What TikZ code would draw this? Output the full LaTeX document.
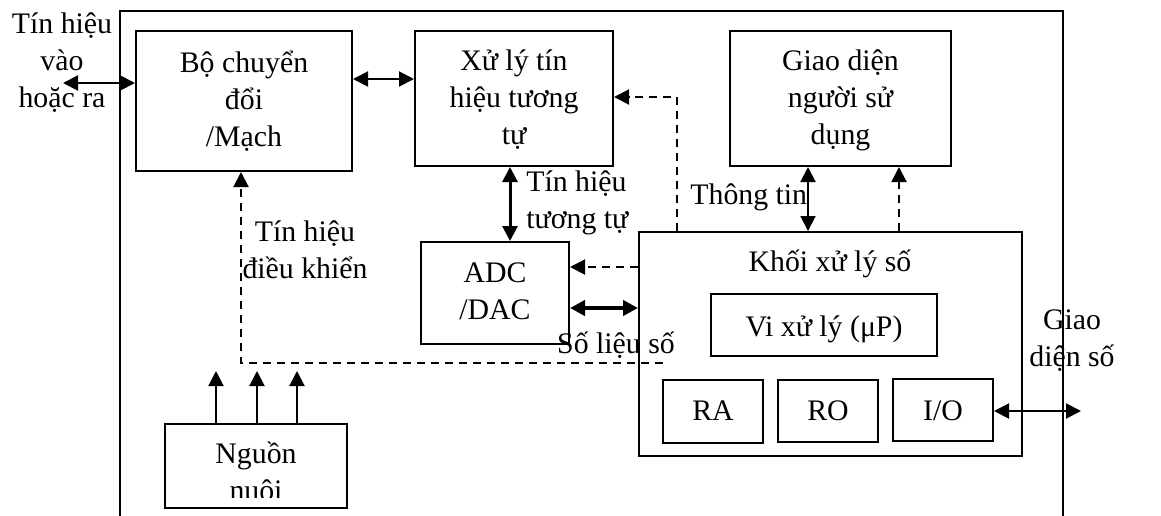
\documentclass[tikz,border=0pt]{standalone}
\usepackage{fontspec}
\setmainfont{Liberation Serif}
\usetikzlibrary{arrows.meta}
\begin{document}
\begin{tikzpicture}[x=0.5pt,y=-0.5pt,
  font=\fontsize{14.9}{18.5}\selectfont,
  box/.style={draw,line width=1pt,inner sep=0pt},
  lbl/.style={inner sep=0pt,align=center},
  tip/.style={-{Triangle[length=7.5pt,width=7.5pt]}},
  dtip/.style={{Triangle[length=7.5pt,width=7.5pt]}-{Triangle[length=7.5pt,width=7.5pt]}},
  conn/.style={line width=1pt},
  dsh/.style={line width=1pt,dash pattern=on 4pt off 3pt}]
\useasboundingbox (0,0) rectangle (1161,515);
% outer frame
\draw[line width=1pt] (120,517) -- (120,11) -- (1063,11) -- (1063,517);
% boxes
\node[box,minimum width=108pt,minimum height=70pt] (bo) at (244,101) {};
\node[box,minimum width=99pt,minimum height=67.5pt] (xl) at (514,98.5) {};
\node[box,minimum width=110.5pt,minimum height=67.5pt] (gd) at (840.5,98.5) {};
\node[box,minimum width=74pt,minimum height=51pt] (adc) at (495,293) {};
\node[box,minimum width=191.5pt,minimum height=112pt] (kh) at (830.5,344) {};
\node[box,minimum width=113pt,minimum height=31pt] (vi) at (824,325) {};
\node[box,minimum width=50pt,minimum height=31.5pt] (ra) at (713,411.5) {};
\node[box,minimum width=50pt,minimum height=31pt] (ro) at (828,411) {};
\node[box,minimum width=50pt,minimum height=31pt] (io) at (943,410) {};
\node[box,minimum width=91pt,minimum height=42pt] (ng) at (256,466) {};
% box texts (base anchor = last line)
\begin{scope}
\clip (136,31) rectangle (352,161);
\node[lbl,anchor=base] (botxt) at (244,146) {Bộ chuyển\\đổi\\/Mạch};
\end{scope}
\node[lbl,anchor=base] (xltxt) at (514,144) {Xử lý tín\\hiệu tương\\tự};
\node[lbl,anchor=base] (gdtxt) at (840.5,144) {Giao diện\\người sử\\dụng};
\node[lbl,anchor=base] (adctxt) at (495,319) {ADC\\/DAC};
\node[lbl,anchor=base] (khtxt) at (830,271) {Khối xử lý số};
\node[lbl,anchor=base] (vitxt) at (824,336) {Vi xử lý (μP)};
\node[lbl,anchor=base] (ratxt) at (713,420) {RA};
\node[lbl,anchor=base] (rotxt) at (828,420) {RO};
\node[lbl,anchor=base] (iotxt) at (943,420) {I/O};
\begin{scope}
\clip (165,424) rectangle (347,497);
\node[lbl,anchor=base] (ngtxt) at (256,500) {Nguồn\\nuôi};
\end{scope}
% labels
\node[lbl,anchor=base] (lin) at (62,107) {Tín hiệu\\vào\\hoặc ra};
\node[lbl,anchor=base west,align=left] (lan) at (526,228) {Tín hiệu\\tương tự};
\node[lbl,anchor=base west] (lth) at (690,204) {Thông tin};
\node[lbl,anchor=base] (lct) at (305,278) {Tín hiệu\\điều khiển};
\node[lbl,anchor=base] (lsl) at (616,353) {Số liệu số};
\node[lbl,anchor=base] (lgd) at (1072,366) {Giao\\diện số};
% connectors
\coordinate (inL) at (63,83);
\draw[conn,dtip] (inL) -- (bo.west |- inL);
\coordinate (bx) at (0,79);
\draw[conn,dtip] (bo.east |- bx) -- (xl.west |- bx);
\coordinate (ax) at (510,0);
\draw[line width=1.5pt,dtip] (xl.south -| ax) -- (adc.north -| ax);
\coordinate (fb1) at (677,97);
\draw[dsh,tip] (kh.north -| fb1) -- (fb1) -- (xl.east |- fb1);
\coordinate (fb2) at (0,267);
\draw[dsh,tip] (kh.west |- fb2) -- (adc.east |- fb2);
\coordinate (dd) at (0,308);
\draw[line width=2pt,dtip] (adc.east |- dd) -- (kh.west |- dd);
\coordinate (tt) at (808,0);
\draw[conn,dtip] (kh.north -| tt) -- (gd.south -| tt);
\coordinate (gu) at (899,0);
\draw[dsh,tip] (kh.north -| gu) -- (gd.south -| gu);
\coordinate (outR) at (1081,411);
\draw[conn,dtip] (io.east |- outR) -- (outR);
\coordinate (ce) at (663,363);
\coordinate (cc) at (241,363);
\draw[dsh,tip] (ce) -- (cc) -- (bo.south -| cc);
\foreach \px [count=\i] in {216,257,297} {
  \coordinate (p\i) at (\px,371);
  \draw[conn,tip] (ng.north -| p\i) -- (p\i);
}
\end{tikzpicture}
\end{document}
